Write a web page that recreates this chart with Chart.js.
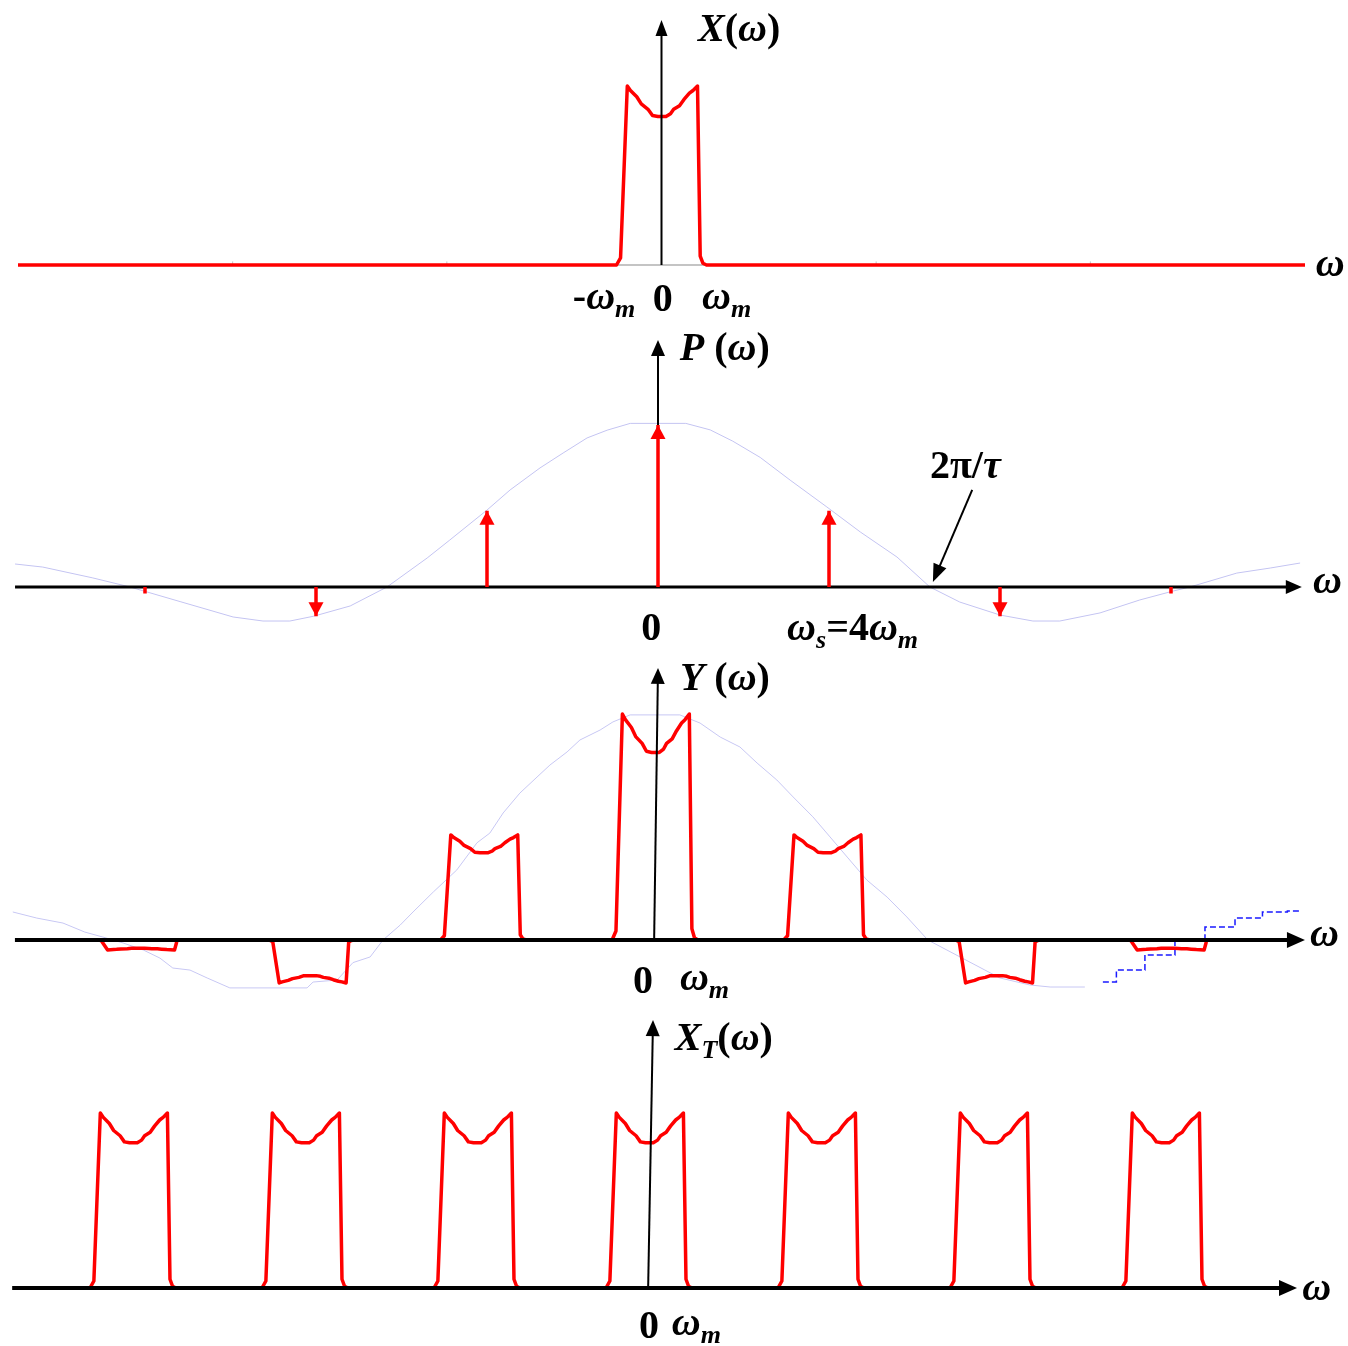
<!DOCTYPE html>
<html>
<head>
    <title>Sampling with flat-top pulses</title>
    <script src="https://cdn.jsdelivr.net/npm/chart.js"></script>
    <style>
        body { margin: 0; background: #fff; overflow: hidden; }
        canvas { position: absolute; left: 0; top: 0; }
    </style>
</head>
<body>
    <canvas id="panelX" width="1348" height="1346"></canvas>
    <canvas id="panelP" width="1348" height="1346"></canvas>
    <canvas id="panelY" width="1348" height="1346"></canvas>
    <canvas id="panelXT" width="1348" height="1346"></canvas>
    <script>
        const W = 1348, H = 1346;

        // one band of the message spectrum, w in units of w_m, height relative to the edge peaks
        const bandW = [-1.00, -0.91, -0.76, -0.69, -0.55, -0.45, -0.30, -0.20, -0.08, 0.10, 0.20, 0.27, 0.40, 0.50, 0.62, 0.70, 0.80, 0.86, 0.92, 1.00];
        const bandA = [0, 0.04, 1.00, 0.975, 0.94, 0.90, 0.87, 0.835, 0.83, 0.83, 0.845, 0.87, 0.89, 0.925, 0.96, 0.975, 1.00, 0.05, 0.01, 0];

        // X(w) is zero outside the band across the whole axis
        const xEnds = [-14.3, 14.3];

        // P(w): impulses at k*ws (ws = 4 wm) and their weights
        const pW = [-12, -8, -4, 0, 4, 8, 12];
        const pA = [-0.04, -0.18, 0.47, 1.0, 0.47, -0.18, -0.04];

        // sinc envelope of P(w)
        const envW2 = [-15.04, -14.39, -13.22, -12.35, -11.18, -9.94, -9.24, -8.61, -8.05, -7.20, -6.34, -5.40, -4.87, -4.00, -3.46, -2.76, -2.22, -1.66, -1.19, -0.65, 0, 0.65, 1.22, 1.75, 2.39, 3.09, 3.95, 4.73, 5.59, 6.36, 7.06, 8.00, 8.77, 9.40, 10.34, 11.27, 12.05, 12.44, 13.54, 14.32, 15.02];
        const envA2 = [0.142, 0.123, 0.056, 0, -0.09, -0.185, -0.21, -0.21, -0.18, -0.117, 0, 0.179, 0.29, 0.475, 0.599, 0.735, 0.827, 0.92, 0.968, 1.01, 1.01, 1.01, 0.97, 0.90, 0.80, 0.66, 0.494, 0.34, 0.185, 0, -0.093, -0.173, -0.21, -0.21, -0.16, -0.08, -0.025, 0, 0.086, 0.117, 0.148];

        // Y(w): band copies at k*ws weighted like the impulses
        const yShift = [-12, -8, -4, 0, 4, 8, 12];
        const yGain = [-0.044, -0.19, 0.465, 1.0, 0.465, -0.19, -0.044];

        // envelope drawn behind Y(w) (solid part, then the dashed tail)
        const envW3 = [-14.97, -14.41, -13.80, -13.29, -12.87, -12.40, -11.93, -11.54, -11.24, -10.84, -10.44, -9.91, -8.11, -7.97, -7.41, -7.04, -6.64, -6.34, -5.94, -5.64, -5.17, -4.62, -4.15, -3.85, -3.54, -3.15, -2.75, -2.45, -2.05, -1.75, -1.28, -0.98, -0.58, 0, 0.58, 1.05, 1.52, 1.98, 2.38, 2.84, 3.22, 3.68, 4.08, 4.48, 4.94, 5.41, 5.87, 6.36, 7.11, 7.69, 8.04, 8.74, 9.21, 10.02];
        const envA3 = [0.124, 0.097, 0.075, 0.035, 0.013, -0.013, -0.044, -0.08, -0.124, -0.133, -0.168, -0.212, -0.212, -0.186, -0.177, -0.10, -0.075, 0, 0.066, 0.124, 0.212, 0.31, 0.43, 0.473, 0.562, 0.65, 0.721, 0.774, 0.832, 0.885, 0.929, 0.965, 0.996, 0.996, 0.996, 0.96, 0.898, 0.854, 0.783, 0.708, 0.633, 0.545, 0.456, 0.367, 0.265, 0.19, 0.102, 0, -0.075, -0.133, -0.168, -0.199, -0.208, -0.208];
        const tailW3 = [10.44, 11.07, 11.77, 12.47, 13.17, 13.87, 14.45, 15.03];
        const tailA3 = [-0.186, -0.133, -0.066, 0, 0.057, 0.097, 0.124, 0.128];

        // X_T(w): equal copies of the band every ws
        const tShift = [-12, -8, -4, 0, 4, 8, 12];

        const FONT = '"Liberation Serif", "Times New Roman", serif';
        const RED = '#ff0000';

        function pts(ws, as) {
            return ws.map((w, i) => ({ x: w, y: as[i] }));
        }

        function bands(shifts, gains) {
            let out = [];
            shifts.forEach((s, k) => {
                bandW.forEach((w, i) => out.push({ x: s + w, y: bandA[i] * gains[k] }));
                out.push({ x: s + 2, y: null });
            });
            return out;
        }

        function impulses() {
            let out = [];
            pW.forEach((w, i) => {
                out.push({ x: w, y: 0 }, { x: w, y: pA[i] }, { x: w + 1, y: null });
            });
            return out;
        }

        function px(c, x, y) {
            return [c.scales.x.getPixelForValue(x), c.scales.y.getPixelForValue(y)];
        }

        // straight line with optional arrow head at the end
        function arrow(c, from, to, width, color, headLen, headHalf) {
            let ctx = c.ctx;
            let a = px(c, from[0], from[1]), b = px(c, to[0], to[1]);
            let dx = b[0] - a[0], dy = b[1] - a[1];
            let d = Math.hypot(dx, dy);
            let ux = dx / d, uy = dy / d;
            let end = headLen ? [b[0] - ux * headLen * 0.6, b[1] - uy * headLen * 0.6] : b;
            ctx.save();
            ctx.strokeStyle = color;
            ctx.lineWidth = width;
            ctx.beginPath();
            ctx.moveTo(a[0], a[1]);
            ctx.lineTo(end[0], end[1]);
            ctx.stroke();
            if (headLen) {
                let bx = b[0] - ux * headLen, by = b[1] - uy * headLen;
                ctx.fillStyle = color;
                ctx.beginPath();
                ctx.moveTo(b[0], b[1]);
                ctx.lineTo(bx - uy * headHalf, by + ux * headHalf);
                ctx.lineTo(bx + uy * headHalf, by - ux * headHalf);
                ctx.closePath();
                ctx.fill();
            }
            ctx.restore();
        }

        // parts: [text, italic, subscript]
        function label(c, at, parts, size, align) {
            let ctx = c.ctx;
            let p0 = px(c, at[0], at[1]);
            let fontOf = p => (p[1] ? 'italic ' : '') + 'bold ' + Math.round(p[2] ? size * 0.66 : size) + 'px ' + FONT;
            let total = 0;
            let widths = parts.map(p => {
                ctx.font = fontOf(p);
                let w = ctx.measureText(p[0]).width;
                total += w;
                return w;
            });
            let x = align === 'center' ? p0[0] - total / 2 : p0[0];
            ctx.save();
            ctx.fillStyle = '#000';
            ctx.textAlign = 'left';
            ctx.textBaseline = 'alphabetic';
            parts.forEach((p, i) => {
                ctx.font = fontOf(p);
                ctx.fillText(p[0], x, p0[1] + (p[2] ? size * 0.2 : 0));
                x += widths[i];
            });
            ctx.restore();
        }

        function panel(id, view, datasets, deco) {
            return new Chart(document.getElementById(id), {
                type: 'line',
                data: { datasets: datasets },
                options: {
                    responsive: false,
                    animation: false,
                    events: [],
                    layout: { padding: 0 },
                    plugins: { legend: { display: false }, tooltip: { enabled: false } },
                    elements: { point: { radius: 0 }, line: { tension: 0 } },
                    scales: {
                        x: { type: 'linear', display: false, min: -view.cx / view.u, max: (W - view.cx) / view.u },
                        y: { type: 'linear', display: false, min: -(H - view.b) / view.v, max: view.b / view.v }
                    }
                },
                plugins: [{
                    id: 'deco_' + id,
                    beforeDatasetsDraw: c => { if (deco.under) deco.under(c); },
                    afterDatasetDraw: (c, args) => {
                        if (deco.mid && c.data.datasets[args.index].axesAbove) deco.mid(c);
                    },
                    afterDatasetsDraw: c => { if (deco.over) deco.over(c); }
                }]
            });
        }

        const redLine = { borderColor: RED, borderWidth: 3.5, borderJoinStyle: 'round', fill: false, order: 1 };
        const omega = [['\u03c9', 1]];
        const omegaM = [['\u03c9', 1], ['m', 1, 1]];

        // X(w)
        panel('panelX', { cx: 661.5, u: 45, b: 265, v: 179 }, [
            Object.assign({ data: [{ x: xEnds[0], y: 0 }].concat(pts(bandW, bandA), [{ x: xEnds[1], y: 0 }]) }, redLine)
        ], {
            under: c => {
                arrow(c, [xEnds[0], 0], [xEnds[1], 0], 2, '#c4c4c4');
                [-9.53, -4.77, 4.77, 9.53].forEach(t => arrow(c, [t, 0], [t, 0.02], 1, '#c4c4c4'));
            },
            over: c => {
                arrow(c, [0, 0], [0, 1.369], 2, '#000', 16, 6);
                label(c, [0.81, 1.251], [['X', 1], ['('], ['\u03c9', 1], [')']], 40);
                label(c, [14.54, -0.061], omega, 40);
                label(c, [-1.97, -0.246], [['-']].concat(omegaM), 40);
                label(c, [0.03, -0.257], [['0']], 40, 'center');
                label(c, [0.90, -0.246], omegaM, 40);
            }
        });

        // P(w)
        panel('panelP', { cx: 658, u: 42.75, b: 587, v: 162 }, [
            Object.assign({ data: impulses() }, redLine, { borderJoinStyle: 'miter' }),
            { data: pts(envW2, envA2), borderColor: '#c4c4f2', borderWidth: 1, fill: false, order: 2, axesAbove: true }
        ], {
            mid: c => {
                arrow(c, [-15.04, 0], [15.06, 0], 3, '#000', 16, 7);
                arrow(c, [0, 0], [0, 1.525], 2, '#000', 16, 7);
            },
            over: c => {
                pW.forEach((w, i) => {
                    if (Math.abs(pA[i]) >= 0.1) {
                        arrow(c, [w, pA[i] * 0.5], [w, pA[i]], 0.1, RED, 14, 7.5);
                    }
                });
                arrow(c, [7.35, 0.599], [6.43, 0.031], 2, '#000', 18, 7);
                label(c, [0.51, 1.401], [['P', 1], [' ('], ['\u03c9', 1], [')']], 40);
                label(c, [15.32, -0.037], omega, 40);
                label(c, [-0.16, -0.327], [['0']], 40, 'center');
                label(c, [3.02, -0.327], [['\u03c9', 1], ['s', 1, 1], ['=4'], ['\u03c9', 1], ['m', 1, 1]], 40);
                label(c, [6.36, 0.673], [['2\u03c0/'], ['\u03c4', 1]], 40);
            }
        });

        // Y(w)
        panel('panelY', { cx: 655, u: 42.9, b: 940, v: 226 }, [
            Object.assign({ data: bands(yShift, yGain) }, redLine),
            { data: pts(tailW3, tailA3), borderColor: '#1a1aff', borderWidth: 1.5, borderDash: [6, 3], stepped: 'middle', fill: false, order: 2 },
            { data: pts(envW3, envA3), borderColor: '#c8c8f4', borderWidth: 1, fill: false, order: 3 }
        ], {
            over: c => {
                arrow(c, [-14.92, 0], [15.15, 0], 4, '#000', 18, 8);
                arrow(c, [-0.02, 0], [0.07, 1.204], 2, '#000', 16, 7);
                label(c, [0.58, 1.106], [['Y', 1], [' ('], ['\u03c9', 1], [')']], 40);
                label(c, [15.27, -0.027], omega, 40);
                label(c, [-0.28, -0.235], [['0']], 40, 'center');
                label(c, [0.58, -0.221], omegaM, 40);
            }
        });

        // X_T(w)
        panel('panelXT', { cx: 649, u: 43, b: 1288, v: 175 }, [
            Object.assign({ data: bands(tShift, tShift.map(() => 1)) }, redLine)
        ], {
            over: c => {
                arrow(c, [-14.81, 0], [15.07, 0], 4, '#000', 18, 8);
                arrow(c, [-0.02, 0], [0.093, 1.531], 2, '#000', 16, 7);
                label(c, [0.6, 1.36], [['X', 1], ['T', 1, 1], ['('], ['\u03c9', 1], [')']], 40);
                label(c, [15.19, -0.069], omega, 40);
                label(c, [0, -0.286], [['0']], 40, 'center');
                label(c, [0.53, -0.269], omegaM, 40);
            }
        });
    </script>
</body>
</html>
